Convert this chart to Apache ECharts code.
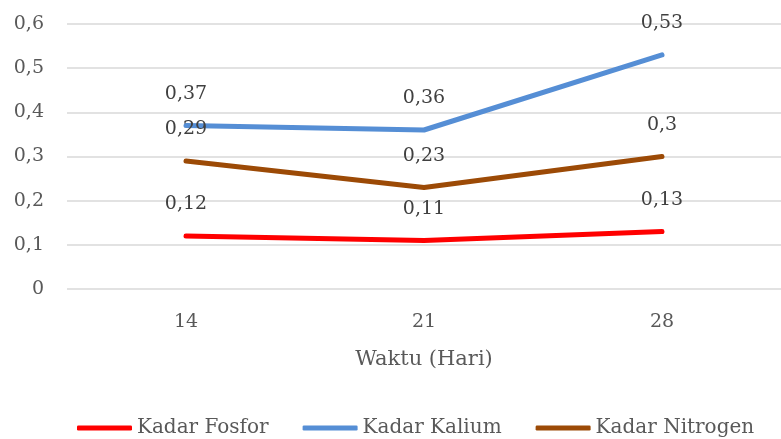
<!DOCTYPE html>
<html>
<head>
<meta charset="utf-8">
<script src="https://cdn.jsdelivr.net/npm/echarts@6/dist/echarts.min.js"></script>
<style>
  html, body { margin: 0; padding: 0; background: #fff; }
  #chart { width: 781px; height: 439px; }
</style>
</head>
<body>
<div id="chart"></div>
<script>
  var days = ['14', '21', '28'];
  var fosfor = [0.12, 0.11, 0.13];
  var kalium = [0.37, 0.36, 0.53];
  var nitrogen = [0.29, 0.23, 0.3];

  var font = '"DejaVu Serif", serif';
  var comma = function (v) { return String(v).replace('.', ','); };

  function line(name, data, color) {
    return {
      name: name,
      type: 'line',
      data: data,
      symbol: 'circle',
      symbolSize: 0,
      lineStyle: { width: 5, color: color, cap: 'round', join: 'round' },
      itemStyle: { color: color },
      label: {
        show: true,
        position: 'top',
        distance: 22,
        fontFamily: font,
        fontSize: 19,
        color: '#404040',
        formatter: function (p) { return comma(p.value); }
      }
    };
  }

  var myChart = echarts.init(document.getElementById('chart'));
  var option = {
    animation: false,
    grid: { left: 67, top: 24, width: 720, height: 265 },
    legend: {
      bottom: -4,
      left: 72,
      itemWidth: 55,
      itemHeight: 5,
      itemGap: 34,
      icon: 'roundRect',
      textStyle: { fontFamily: font, fontSize: 20, color: '#595959' },
      data: ['Kadar Fosfor', 'Kadar Kalium', 'Kadar Nitrogen']
    },
    xAxis: {
      type: 'category',
      data: days,
      name: 'Waktu (Hari)',
      nameLocation: 'middle',
      nameGap: 60,
      nameTextStyle: { fontFamily: font, fontSize: 21, color: '#595959' },
      axisLine: { show: false },
      axisTick: { show: false },
      axisLabel: { fontFamily: font, fontSize: 19, color: '#595959', margin: 24 }
    },
    yAxis: {
      type: 'value',
      min: 0,
      max: 0.6,
      interval: 0.1,
      axisLine: { show: false },
      axisTick: { show: false },
      splitLine: { lineStyle: { color: '#D9D9D9', width: 1.5 } },
      axisLabel: {
        fontFamily: font, fontSize: 19, color: '#595959', margin: 23,
        formatter: function (v) { return comma(Math.round(v * 10) / 10); }
      }
    },
    series: [
      line('Kadar Fosfor', fosfor, '#FF0000'),
      line('Kadar Kalium', kalium, '#558ED5'),
      line('Kadar Nitrogen', nitrogen, '#9C4A06')
    ]
  };
  myChart.setOption(option);
</script>
</body>
</html>
